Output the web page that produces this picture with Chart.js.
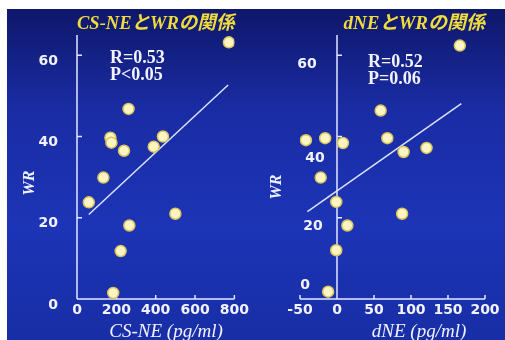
<!DOCTYPE html>
<html>
<head>
<meta charset="utf-8">
<script src="https://cdn.jsdelivr.net/npm/chart.js@4.4.1/dist/chart.umd.min.js"></script>
<style>
  html, body { margin: 0; padding: 0; background: #fff; }
  body { width: 505px; height: 340px; position: relative; overflow: hidden; }
  #bg {
    position: absolute; left: 7px; top: 9px; right: 0; bottom: 0;
    background: linear-gradient(180deg, #0e176a 0%, #1a2ca4 30%, #1c34b6 65%, #182ea6 100%);
  }
  canvas { position: absolute; top: 0; }
  #left { left: 0; }
  #right { left: 252px; }
</style>
</head>
<body>
<div id="bg"></div>
<canvas id="left" width="252" height="340"></canvas>
<canvas id="right" width="253" height="340"></canvas>
<script>
// 左: CS-NE と WR
const csneX  = [772, 262, 170, 175, 239, 390, 437, 134, 60, 500, 266, 222, 184];
const csneWR = [63.2, 46.8, 39.7, 38.5, 36.5, 37.5, 40, 29.9, 23.8, 21, 18.1, 11.8, 1.5];
const csneFitX = [60, 768];
const csneFitY = [20.8, 52.7];
const csneTicks = [0, 200, 400, 600, 800];

// 右: dNE と WR
const dneX  = [166, 59, -42, -16, 8, 68, 90, 121, -22, -1, 88, 14, -1, -12];
const dneWR = [62.4, 46.4, 39.1, 39.6, 38.4, 39.6, 36.2, 37.2, 29.9, 23.9, 21, 18.1, 12, 1.8];
const dneFitX = [-40, 168];
const dneFitY = [21.5, 48.1];
const dneTicks = [-50, 0, 50, 100, 150, 200];

const wrTicks = [0, 20, 40, 60];

const white = '#f2f3ff';
const serif = "'Liberation Serif', 'Noto Sans CJK JP', serif";
const sans = "'DejaVu Sans', sans-serif";

function toPoints(xs, ys) {
  return xs.map((v, i) => ({ x: v, y: ys[i] }));
}

// 軸線（x=0, y=0 の位置）と内向きの目盛り、注記テキスト
const slidePlugin = {
  id: 'slide',
  beforeDatasetsDraw(chart) {
    const { ctx } = chart;
    const x = chart.scales.x, y = chart.scales.y;
    const x0 = x.getPixelForValue(0), y0 = y.getPixelForValue(0);
    ctx.save();
    ctx.strokeStyle = '#e4e8ff';
    ctx.lineWidth = 1.5;
    ctx.beginPath();
    ctx.moveTo(x.left, y0); ctx.lineTo(x.right, y0);
    ctx.moveTo(x0, y0); ctx.lineTo(x0, y.top);
    x.ticks.forEach(t => {
      const px = x.getPixelForValue(t.value);
      ctx.moveTo(px, y0); ctx.lineTo(px, y0 - 4);
    });
    y.ticks.forEach(t => {
      if (t.value === 0) return;
      const py = y.getPixelForValue(t.value);
      ctx.moveTo(x0, py); ctx.lineTo(x0 + 5, py);
    });
    ctx.stroke();
    ctx.restore();
  },
  afterDraw(chart, args, opts) {
    const { ctx } = chart;
    const x = chart.scales.x, y = chart.scales.y;
    ctx.save();
    ctx.fillStyle = white;
    ctx.textBaseline = 'middle';
    // 右図の y 目盛りラベル（スライド上でずれて貼られている）
    if (opts.yShift) {
      ctx.font = 'bold 14px ' + sans;
      ctx.textAlign = 'center';
      const x0 = x.getPixelForValue(0);
      y.ticks.forEach((t, i) => {
        const s = opts.yShift[i];
        ctx.fillText(String(t.value), x0 + s[0], y.getPixelForValue(t.value) + s[1]);
      });
    }
    // R, P
    ctx.font = 'bold 18px ' + serif;
    ctx.textAlign = 'left';
    opts.stats.forEach((s, i) => {
      ctx.fillText(s, opts.statsAt[0], opts.statsAt[1] + i * 17);
    });
    // x軸タイトル
    ctx.font = 'italic 19px ' + serif;
    ctx.textAlign = 'center';
    ctx.fillText(opts.xTitle, opts.xTitleAt[0], opts.xTitleAt[1]);
    // y軸タイトル
    ctx.translate(opts.yTitleAt[0], opts.yTitleAt[1]);
    ctx.rotate(-Math.PI / 2);
    ctx.font = 'italic bold 16px ' + serif;
    ctx.fillText('WR', 0, 0);
    ctx.restore();
  }
};

function makeChart(id, cfg) {
  return new Chart(document.getElementById(id), {
    type: 'scatter',
    data: {
      datasets: [{
        data: cfg.points,
        pointRadius: 5.5,
        pointBackgroundColor: '#fdf5c2',
        pointBorderColor: '#dcc45a',
        pointBorderWidth: 1.5,
        order: 0
      }, {
        type: 'line',
        data: cfg.fit,
        borderColor: '#dbe4ff',
        borderWidth: 1.5,
        pointRadius: 0,
        order: 1
      }]
    },
    options: {
      responsive: false,
      animation: false,
      layout: { padding: { left: 0, right: cfg.padRight, top: 0, bottom: 0 } },
      plugins: {
        legend: { display: false },
        tooltip: { enabled: false },
        title: {
          display: true,
          text: cfg.title,
          fullSize: false,
          align: cfg.titleAlign,
          color: '#f0dc3c',
          font: { family: serif, size: 19, style: 'italic', weight: 'bold', lineHeight: 1 },
          padding: { top: 15, bottom: 1 }
        },
        slide: cfg.slide
      },
      scales: {
        x: {
          type: 'linear',
          min: cfg.xMin,
          max: cfg.xMax,
          afterBuildTicks: s => { s.ticks = cfg.xTicks.map(v => ({ value: v })); },
          afterFit: s => { s.height = 41; },
          grid: { display: false, drawTicks: false },
          border: { display: false },
          ticks: { color: white, padding: 3, font: { family: sans, size: 14, weight: 'bold' } }
        },
        y: {
          type: 'linear',
          min: 0,
          max: 65,
          afterBuildTicks: s => { s.ticks = wrTicks.map(v => ({ value: v })); },
          afterFit: s => { s.width = cfg.yWidth; },
          grid: { display: false, drawTicks: false },
          border: { display: false },
          ticks: {
            display: !cfg.slide.yShift,
            color: white, padding: 19, labelOffset: 6,
            font: { family: sans, size: 14, weight: 'bold' }
          }
        }
      }
    },
    plugins: [slidePlugin]
  });
}

makeChart('left', {
  points: toPoints(csneX, csneWR),
  fit: toPoints(csneFitX, csneFitY),
  title: 'CS-NEとWRの関係',
  titleAlign: 'center',
  xMin: 0, xMax: 800, xTicks: csneTicks,
  yWidth: 77, padRight: 3,
  slide: {
    stats: ['R=0.53', 'P<0.05'],
    statsAt: [110, 58],
    xTitle: 'CS-NE (pg/ml)', xTitleAt: [166, 332],
    yTitleAt: [30, 183]
  }
});

makeChart('right', {
  points: toPoints(dneX, dneWR),
  fit: toPoints(dneFitX, dneFitY),
  title: 'dNEとWRの関係',
  titleAlign: 'end',
  xMin: -50, xMax: 200, xTicks: dneTicks,
  yWidth: 48, padRight: 20,
  slide: {
    yShift: [[-32, -14], [-24, 9], [-22, 22], [-30, 9]],
    stats: ['R=0.52', 'P=0.06'],
    statsAt: [116, 62],
    xTitle: 'dNE (pg/ml)', xTitleAt: [167, 332],
    yTitleAt: [25, 187]
  }
});
</script>
</body>
</html>
